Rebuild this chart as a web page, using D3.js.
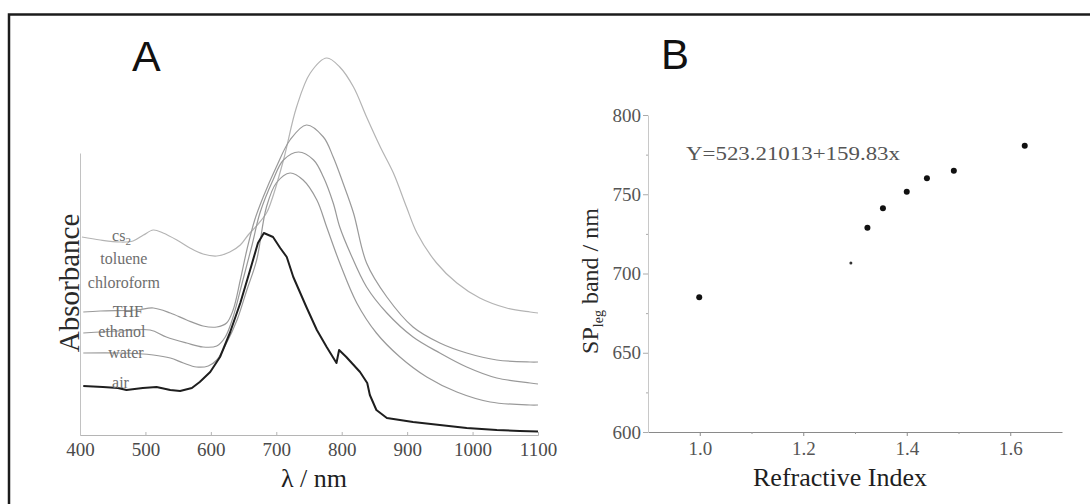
<!DOCTYPE html>
<html>
<head>
<meta charset="utf-8">
<script src="https://cdn.jsdelivr.net/npm/d3@7/dist/d3.min.js"></script>
<style>
  html, body { margin: 0; padding: 0; background: #fff; }
  svg { display: block; }
  .serif { font-family: "Liberation Serif", "Times New Roman", serif; }
  .tick text { font-family: "Liberation Serif", "Times New Roman", serif; }
</style>
</head>
<body>
<div id="chart"></div>
<script>
// Panel A: absorbance spectra, [wavelength nm, absorbance (a.u., stacked)]
const airSpectrum = [
  [405, 0.49], [435, 0.48], [458, 0.47], [471, 0.45], [496, 0.47], [517, 0.48],
  [538, 0.45], [553, 0.44], [571, 0.47], [583, 0.53], [599, 0.63], [614, 0.78],
  [629, 1.02], [645, 1.32], [660, 1.65], [672, 1.92], [681, 2.02], [695, 1.98],
  [706, 1.87], [716, 1.78], [726, 1.58], [746, 1.28], [762, 1.05], [777, 0.88],
  [792, 0.72], [796, 0.85], [807, 0.78], [828, 0.63], [839, 0.52], [843, 0.40],
  [853, 0.25], [869, 0.17], [909, 0.13], [950, 0.10], [991, 0.07], [1037, 0.05],
  [1072, 0.04], [1100, 0.035]
];
const waterSpectrum = [
  [405, 0.82], [461, 0.82], [512, 0.80], [538, 0.77], [558, 0.72], [578, 0.68],
  [596, 0.69], [609, 0.75], [624, 0.92], [640, 1.15], [655, 1.45], [670, 1.75],
  [685, 2.28], [700, 2.52], [721, 2.62], [741, 2.55], [762, 2.35], [777, 2.08],
  [797, 1.72], [823, 1.32], [853, 1.02], [889, 0.78], [930, 0.58], [976, 0.43],
  [1027, 0.33], [1088, 0.30], [1100, 0.30]
];
const ethanolSpectrum = [
  [405, 1.02], [461, 1.04], [507, 1.05], [532, 0.98], [563, 0.92], [588, 0.88],
  [609, 0.89], [622, 0.98], [634, 1.18], [649, 1.55], [663, 1.90], [675, 2.22],
  [695, 2.55], [711, 2.75], [734, 2.83], [757, 2.75], [772, 2.58], [787, 2.32],
  [797, 2.08], [813, 1.82], [838, 1.48], [869, 1.22], [909, 0.98], [950, 0.82],
  [991, 0.68], [1037, 0.57], [1088, 0.52], [1100, 0.51]
];
const thfSpectrum = [
  [405, 1.23], [431, 1.24], [487, 1.25], [512, 1.27], [538, 1.22], [563, 1.15],
  [588, 1.09], [609, 1.08], [624, 1.12], [634, 1.25], [645, 1.55], [655, 1.85],
  [667, 2.15], [680, 2.38], [700, 2.68], [721, 2.95], [746, 3.10], [772, 2.98],
  [787, 2.78], [802, 2.52], [818, 2.22], [838, 1.72], [869, 1.38], [909, 1.08],
  [950, 0.92], [991, 0.82], [1037, 0.75], [1088, 0.73], [1100, 0.73]
];
const cs2Spectrum = [
  [403, 1.98], [431, 1.95], [461, 1.93], [481, 1.94], [497, 2.00], [512, 2.05],
  [527, 2.02], [548, 1.95], [568, 1.87], [588, 1.81], [609, 1.79], [629, 1.83],
  [645, 1.90], [657, 2.00], [671, 2.10], [685, 2.22], [693, 2.35], [711, 2.75],
  [731, 3.28], [752, 3.62], [777, 3.77], [797, 3.68], [818, 3.48], [838, 3.18],
  [859, 2.88], [879, 2.62], [899, 2.28], [915, 2.02], [945, 1.72], [976, 1.52],
  [1011, 1.37], [1052, 1.27], [1088, 1.23], [1100, 1.22]
];

// Solvent labels and where they sit in data space [nm, a.u.]
const solventNames = ['cs', 'toluene', 'chloroform', 'THF', 'ethanol', 'water', 'air'];
const solventLabelAt = [[449, 1.94], [431, 1.71], [412, 1.47], [450, 1.18], [428, 0.98], [443, 0.77], [449, 0.47]];

const wavelengthTicks = [400, 500, 600, 700, 800, 900, 1000, 1100];

// Panel B: SP band position vs refractive index
const refractiveIndex = [0.999, 1.324, 1.354, 1.400, 1.439, 1.491, 1.628];
const bandPosition = [685.0, 728.9, 741.1, 751.6, 760.1, 764.9, 780.6];
const faintPoint = [[1.292, 706.6]];
const indexTicks = [1.0, 1.2, 1.4, 1.6];
const indexMinorTicks = [1.1, 1.3, 1.5];
const bandTicks = [600, 650, 700, 750, 800];
const bandMinorTicks = [625, 675, 725, 775];
const fitLabel = 'Y=523.21013+159.83x';

const W = 1090, H = 504;
const svg = d3.select('#chart').append('svg')
  .attr('width', W).attr('height', H);

svg.append('rect').attr('width', W).attr('height', H).attr('fill', '#fff');

// outer frame (left + top edges visible)
svg.append('path')
  .attr('d', `M9,${H + 5}V14.5H${W + 5}`)
  .attr('fill', 'none')
  .attr('stroke', '#1c1c1c')
  .attr('stroke-width', 2.5);

// ---------- Panel A ----------
const xA = d3.scaleLinear().domain([400, 1100]).range([80, 538]);
const yA = d3.scaleLinear().domain([0, 4]).range([435, 35]);

const gA = svg.append('g');

const xAxisA = gA.append('g')
  .attr('transform', `translate(0,${yA(0)})`)
  .call(d3.axisBottom(xA).tickValues(wavelengthTicks).tickSize(-3).tickPadding(8).tickFormat(d3.format('d')));
xAxisA.select('.domain').attr('stroke', '#b5b5b5');
xAxisA.selectAll('.tick line').attr('stroke', '#b5b5b5');
xAxisA.selectAll('.tick text').attr('font-size', 19).attr('fill', '#4a4a4a');

const yAxisScaleA = yA.copy().domain([0, 2.82]).range([yA(0), yA(2.82)]);
const yAxisA = gA.append('g')
  .attr('transform', `translate(${xA(400)},0)`)
  .call(d3.axisLeft(yAxisScaleA).tickValues([]).tickSizeOuter(0));
yAxisA.select('.domain').attr('stroke', '#c2c2c2');

const lineA = d3.line()
  .x(d => xA(d[0]))
  .y(d => yA(d[1]))
  .curve(d3.curveCatmullRom.alpha(0.5));

const greySeries = [
  { data: cs2Spectrum, color: '#b4b4b4' },
  { data: thfSpectrum, color: '#9a9a9a' },
  { data: ethanolSpectrum, color: '#999' },
  { data: waterSpectrum, color: '#999' }
];
greySeries.forEach(s => {
  gA.append('path')
    .datum(s.data)
    .attr('fill', 'none')
    .attr('stroke', s.color)
    .attr('stroke-width', 1.2)
    .attr('d', lineA);
});

gA.append('path')
  .datum(airSpectrum)
  .attr('fill', 'none')
  .attr('stroke', '#1e1e1e')
  .attr('stroke-width', 2)
  .attr('stroke-linejoin', 'round')
  .attr('d', d3.line().x(d => xA(d[0])).y(d => yA(d[1])));

// solvent labels
solventNames.forEach((name, i) => {
  const t = gA.append('text')
    .attr('class', 'serif')
    .attr('x', xA(solventLabelAt[i][0]))
    .attr('y', yA(solventLabelAt[i][1]))
    .attr('font-size', 16)
    .attr('fill', '#6e6e6e')
    .text(name);
  if (name === 'cs') {
    t.append('tspan').attr('font-size', 11).attr('dy', 4).text('2');
  }
});

gA.append('text')
  .attr('class', 'serif')
  .attr('transform', `translate(${xA(400) - 1},${yA(1.52)}) rotate(-90)`)
  .attr('text-anchor', 'middle')
  .attr('font-size', 29)
  .attr('fill', '#2a2a2a')
  .text('Absorbance');

gA.append('text')
  .attr('class', 'serif')
  .attr('x', (xA(400) + xA(1100)) / 2 + 5)
  .attr('y', 487)
  .attr('text-anchor', 'middle')
  .attr('font-size', 26)
  .attr('fill', '#1e1e1e')
  .text('λ / nm');

svg.append('text')
  .attr('x', 132).attr('y', 71)
  .attr('font-family', '"Liberation Sans", Arial, sans-serif')
  .attr('font-size', 43)
  .attr('fill', '#111')
  .text('A');

// ---------- Panel B ----------
const xB = d3.scaleLinear().domain([0.9, 1.7]).range([648, 1062]);
const yB = d3.scaleLinear().domain([600, 800]).range([432, 115]);

const gB = svg.append('g');

const xAxisB = gB.append('g')
  .attr('transform', `translate(0,${yB(600)})`)
  .call(d3.axisBottom(xB).tickValues(indexTicks).tickSize(4).tickPadding(6).tickSizeOuter(0).tickFormat(d3.format('.1f')));
xAxisB.select('.domain').attr('stroke', '#8a8a8a');
xAxisB.selectAll('.tick line').attr('stroke', '#8a8a8a');
xAxisB.selectAll('.tick text').attr('font-size', 19).attr('fill', '#555');

const xMinorB = gB.append('g')
  .attr('transform', `translate(0,${yB(600)})`)
  .call(d3.axisBottom(xB).tickValues(indexMinorTicks).tickSize(2).tickFormat(''));
xMinorB.select('.domain').remove();
xMinorB.selectAll('.tick line').attr('stroke', '#999');

const yAxisB = gB.append('g')
  .attr('transform', `translate(${xB(0.9)},0)`)
  .call(d3.axisLeft(yB).tickValues(bandTicks).tickSize(5).tickPadding(2).tickSizeOuter(0));
yAxisB.select('.domain').attr('stroke', '#c8c8c8');
yAxisB.selectAll('.tick line').attr('stroke', '#aaa');
yAxisB.selectAll('.tick text').attr('font-size', 19).attr('fill', '#555');

const yMinorB = gB.append('g')
  .attr('transform', `translate(${xB(0.9)},0)`)
  .call(d3.axisLeft(yB).tickValues(bandMinorTicks).tickSize(2).tickFormat(''));
yMinorB.select('.domain').remove();
yMinorB.selectAll('.tick line').attr('stroke', '#aaa');

gB.selectAll('.pt')
  .data(refractiveIndex.map((n, i) => [n, bandPosition[i]]))
  .enter().append('circle')
  .attr('class', 'pt')
  .attr('cx', d => xB(d[0]))
  .attr('cy', d => yB(d[1]))
  .attr('r', 3)
  .attr('fill', '#111');

gB.selectAll('.faint')
  .data(faintPoint)
  .enter().append('circle')
  .attr('class', 'faint')
  .attr('cx', d => xB(d[0]))
  .attr('cy', d => yB(d[1]))
  .attr('r', 1.5)
  .attr('fill', '#333');

gB.append('text')
  .attr('class', 'serif')
  .attr('x', 686).attr('y', 160)
  .attr('font-size', 18)
  .attr('textLength', 214)
  .attr('lengthAdjust', 'spacingAndGlyphs')
  .attr('fill', '#555')
  .text(fitLabel);

const yLab = gB.append('text')
  .attr('class', 'serif')
  .attr('transform', `translate(598,281) rotate(-90)`)
  .attr('text-anchor', 'middle')
  .attr('font-size', 24)
  .attr('fill', '#2a2a2a');
yLab.append('tspan').text('SP');
yLab.append('tspan').attr('font-size', 14).attr('dy', 5).text('leg');
yLab.append('tspan').attr('dy', -5).text(' band / nm');

gB.append('text')
  .attr('class', 'serif')
  .attr('x', 840).attr('y', 486)
  .attr('text-anchor', 'middle')
  .attr('font-size', 26)
  .attr('fill', '#1e1e1e')
  .text('Refractive Index');

svg.append('text')
  .attr('x', 661).attr('y', 69)
  .attr('font-family', '"Liberation Sans", Arial, sans-serif')
  .attr('font-size', 42)
  .attr('fill', '#111')
  .text('B');
</script>
</body>
</html>
